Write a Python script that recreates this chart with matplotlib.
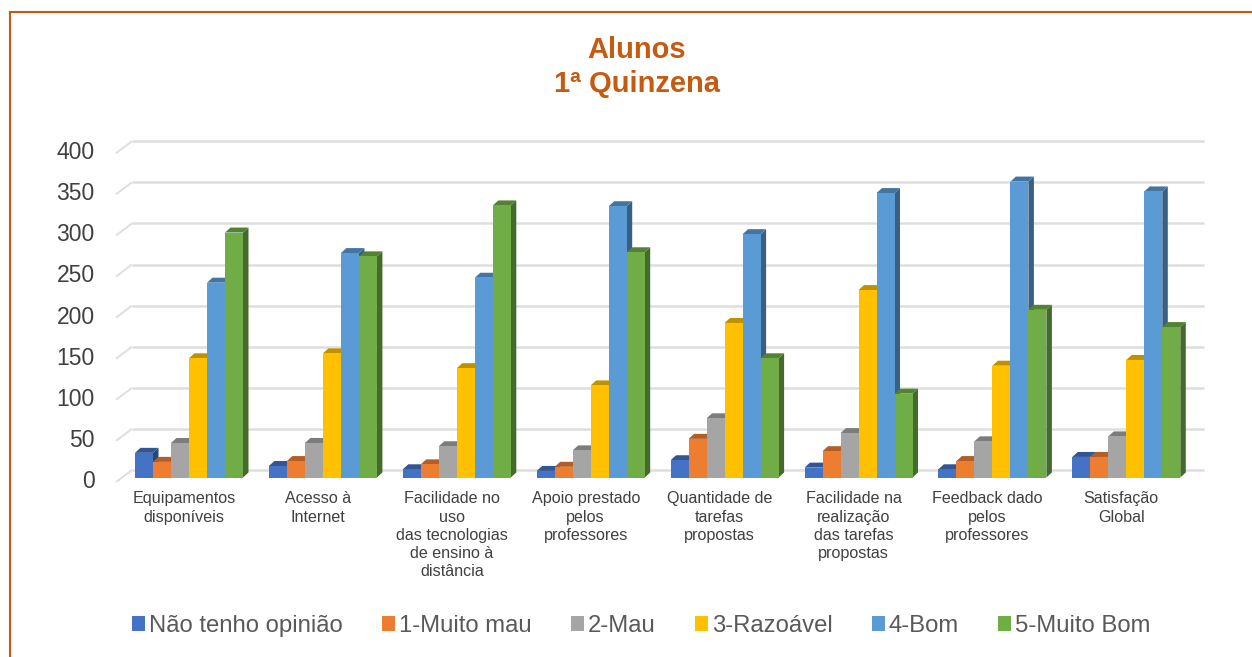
"""Alunos 1a Quinzena: pseudo-3D clustered bars, built on a plain 2D axes."""
import matplotlib
matplotlib.use("Agg")
import matplotlib.pyplot as plt
from matplotlib.colors import to_rgb
from matplotlib.lines import Line2D
from matplotlib.patches import Polygon, Rectangle
from matplotlib.transforms import ScaledTranslation

plt.rcParams["font.family"] = ["Liberation Sans", "DejaVu Sans"]

categories = [
    "Equipamentos\ndisponíveis",
    "Acesso à\nInternet",
    "Facilidade no\nuso\ndas tecnologias\nde ensino à\ndistância",
    "Apoio prestado\npelos\nprofessores",
    "Quantidade de\ntarefas\npropostas",
    "Facilidade na\nrealização\ndas tarefas\npropostas",
    "Feedback dado\npelos\nprofessores",
    "Satisfação\nGlobal",
]
series_names = ["Não tenho opinião", "1-Muito mau", "2-Mau", "3-Razoável", "4-Bom", "5-Muito Bom"]
sem_opiniao = [30, 14, 10, 8, 21, 12, 10, 25]
muito_mau = [19, 20, 16, 13, 47, 32, 20, 25]
mau = [42, 42, 38, 33, 72, 54, 44, 50]
razoavel = [145, 151, 133, 112, 188, 228, 136, 143]
bom = [237, 273, 243, 330, 296, 346, 360, 348]
muito_bom = [298, 269, 331, 274, 145, 102, 204, 183]
all_series = [sem_opiniao, muito_mau, mau, razoavel, bom, muito_bom]
colors = ["#4472C4", "#ED7D31", "#A5A5A5", "#FFC000", "#5B9BD5", "#70AD47"]
y_ticks = [0, 50, 100, 150, 200, 250, 300, 350, 400]

W, H = 1252, 657
GROUP_PX = 133.9
BAR_PX = 18.0
PX_PER_UNIT = 0.822
DEPTH_X = 5.5 / GROUP_PX      # bar depth, data units
DEPTH_Y = 5 / PX_PER_UNIT
GRID_DY = 7.5 / PX_PER_UNIT  # back wall sits above the bar base
STUB_X = 16 / GROUP_PX
STUB_Y = 12 / PX_PER_UNIT
ORANGE = "#C55A11"


def shade(color, factor):
    return tuple(c * factor for c in to_rgb(color))


fig = plt.figure(figsize=(W / 100, H / 100), dpi=100)
fig.patch.set_facecolor("white")

# frame of the slide: only top and left edges are inside the image
fig.add_artist(Line2D([10 / W, 10 / W, 1], [0, 1 - 12 / H, 1 - 12 / H], transform=fig.transFigure,
                      color=ORANGE, lw=1.5, solid_joinstyle="miter"))

# axes box: x from 132 to 1204 px, y from 477.5 px (value 0) to 148.7 px (value 400)
ax = fig.add_axes([132 / W, 1 - 477.5 / H, 1072 / W, 328.8 / H])
ax.set_xlim((132 - 189) / GROUP_PX, (1204 - 189) / GROUP_PX)
ax.set_ylim(0, 400)
ax.patch.set_alpha(0)
for s in ax.spines.values():
    s.set_visible(False)

x0, x1 = ax.get_xlim()
for t in y_ticks:
    ax.plot([x0, x1], [t + GRID_DY] * 2, color="#DEDEDE", lw=1.8, clip_on=False, zorder=1,
            solid_capstyle="butt")
    ax.plot([x0 - STUB_X, x0], [t + GRID_DY - STUB_Y, t + GRID_DY], color="#DEDEDE", lw=1.4,
            clip_on=False, zorder=1, solid_capstyle="butt")

bar_w = BAR_PX / GROUP_PX
for k, (vals, col) in enumerate(zip(all_series, colors)):
    offset = (k - 2.5) * bar_w
    for i, v in enumerate(vals):
        left = i + offset - bar_w / 2
        right = left + bar_w
        z = 3 + k
        ax.add_patch(Polygon([(right, 0), (right + DEPTH_X, DEPTH_Y), (right + DEPTH_X, v + DEPTH_Y), (right, v)],
                             facecolor=shade(col, 0.62), edgecolor="none", clip_on=False, zorder=z))
        ax.add_patch(Polygon([(left, v), (left + DEPTH_X, v + DEPTH_Y), (right + DEPTH_X, v + DEPTH_Y), (right, v)],
                             facecolor=shade(col, 0.75), edgecolor="none", clip_on=False, zorder=z))
        ax.bar(i + offset, v, width=bar_w, color=col, zorder=z + 0.5, clip_on=False)

ax.set_yticks(y_ticks)
ax.set_yticklabels([str(t) for t in y_ticks], fontsize=16.5, color="#404040")
ax.set_xticks(range(len(categories)))
ax.set_xticklabels(categories, fontsize=11.6, color="#404040", linespacing=1.27, va="top")
ax.tick_params(axis="y", length=0, pad=27)
ax.tick_params(axis="x", length=0, pad=10)

# nudge tick labels to where the reference has them
for lab in ax.get_yticklabels():
    lab.set_transform(lab.get_transform() + ScaledTranslation(0, -1.5 / 100, fig.dpi_scale_trans))
for lab in ax.get_xticklabels():
    lab.set_transform(lab.get_transform() + ScaledTranslation(-5 / 100, 0, fig.dpi_scale_trans))

fig.text(637 / W, 1 - 67 / H, "Alunos\n1ª Quinzena", ha="center", va="center", fontsize=21,
         fontweight="bold", color=ORANGE, linespacing=1.3)

handles = [Rectangle((0, 0), 1, 1, facecolor=c) for c in colors]
fig.legend(handles, series_names, loc="center", bbox_to_anchor=(641.5 / W, 1 - 626 / H), ncol=6, frameon=False,
           fontsize=17.2, handlelength=0.54, handleheight=0.54, handletextpad=0.17, columnspacing=1.64,
           labelcolor="#595959", borderpad=0)

fig.savefig("out.png", dpi=100)
plt.close(fig)
